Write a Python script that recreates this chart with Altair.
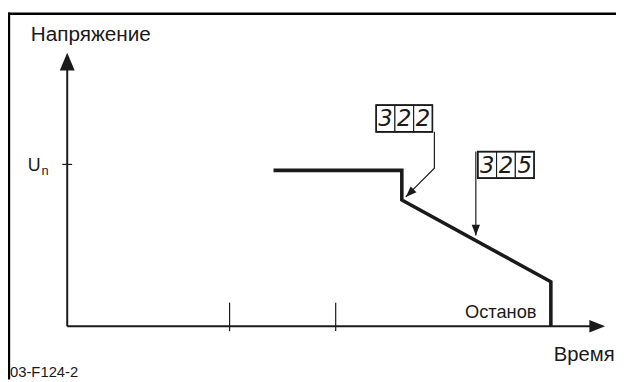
import altair as alt
import pandas as pd

# ---- values (time in arbitrary units, voltage in units of Un) ----
profile_t = [2.09, 3.39, 3.39, 4.90, 4.90]
profile_v = [0.963, 0.963, 0.78, 0.275, 0.0]

time_ticks = [1.645, 2.72]
un_level = 1.0

# parameter boxes: cell edges (time units) and box top/bottom (voltage units)
box322_edges = [3.13, 3.32, 3.51, 3.70]
box322_y = [1.366, 1.201]
box322_digits = ["3", "2", "2"]
box325_edges = [4.16, 4.35, 4.54, 4.73]
box325_y = [1.079, 0.915]
box325_digits = ["3", "2", "5"]

# annotation arrows (polylines ending at the tip)
arrow322_t = [3.72, 3.72, 3.43]
arrow322_v = [1.201, 0.976, 0.799]
arrow325_t = [4.14, 4.14]
arrow325_v = [1.079, 0.56]

x_axis_end = 5.45
y_axis_end = 1.69

X_DOM = [-0.6, 5.56]
Y_DOM = [-0.3293, 1.9512]
W, H = 616, 374

xs = alt.Scale(domain=X_DOM, nice=False, zero=False)
ys = alt.Scale(domain=Y_DOM, nice=False, zero=False)

def X(f):
    return alt.X(f, type="quantitative", scale=xs, axis=None)

def Y(f):
    return alt.Y(f, type="quantitative", scale=ys, axis=None)

FONT = "Liberation Sans"

# ---- frame ----
frame_top = alt.Chart(pd.DataFrame({"a": [0]})).mark_rule(color="black", strokeWidth=2.6).encode(
    x=alt.value(0), x2=alt.value(W), y=alt.value(3.3))
frame_left = alt.Chart(pd.DataFrame({"a": [0]})).mark_rule(color="black", strokeWidth=2.6).encode(
    x=alt.value(0.9), y=alt.value(2), y2=alt.value(H))

# ---- axes ----
axes_df = pd.DataFrame({"x": [0, 0], "x2": [0, x_axis_end - 0.14], "y": [0, 0], "y2": [y_axis_end - 0.1, 0]})
axes = alt.Chart(axes_df).mark_rule(color="#1a1a1a", strokeWidth=2).encode(
    x=X("x"), x2="x2", y=Y("y"), y2="y2")

ticks_df = pd.DataFrame({"x": time_ticks, "y": [0.146] * 2, "y2": [-0.03] * 2})
ticks = alt.Chart(ticks_df).mark_rule(color="#1a1a1a", strokeWidth=1.2).encode(
    x=X("x"), y=Y("y"), y2="y2")

un_df = pd.DataFrame({"x": [-0.05], "x2": [0.05], "y": [un_level]})
un_tick = alt.Chart(un_df).mark_rule(color="#1a1a1a", strokeWidth=1.2).encode(
    x=X("x"), x2="x2", y=Y("y"))

head = "M0,0L-0.42,1L0.42,1Z"
yhead = alt.Chart(pd.DataFrame({"x": [0], "y": [y_axis_end]})).mark_point(
    shape=head, size=1296, filled=True, color="#1a1a1a", opacity=1, strokeWidth=0).encode(x=X("x"), y=Y("y"))
xhead = alt.Chart(pd.DataFrame({"x": [x_axis_end], "y": [0]})).mark_point(
    shape="M0,0L-0.4,1L0.4,1Z", size=1024, angle=90, filled=True, color="#1a1a1a", opacity=1,
    strokeWidth=0).encode(x=X("x"), y=Y("y"))

# ---- voltage profile ----
prof_df = pd.DataFrame({"t": profile_t, "v": profile_v, "o": list(range(len(profile_t)))})
profile = alt.Chart(prof_df).mark_line(color="#1a1a1a", strokeWidth=3.6, strokeJoin="miter",
                                       strokeCap="butt").encode(x=X("t"), y=Y("v"), order="o:Q")

# ---- annotation arrows ----
a322 = pd.DataFrame({"t": arrow322_t, "v": arrow322_v, "o": [0, 1, 2]})
arr322 = alt.Chart(a322).mark_line(color="#1a1a1a", strokeWidth=1.2).encode(
    x=X("t"), y=Y("v"), order="o:Q")
a325 = pd.DataFrame({"t": arrow325_t, "v": arrow325_v, "o": [0, 1]})
arr325 = alt.Chart(a325).mark_line(color="#1a1a1a", strokeWidth=1.2).encode(
    x=X("t"), y=Y("v"), order="o:Q")

small_head = "M0,0L-0.38,1L0.38,1Z"
h322 = alt.Chart(pd.DataFrame({"t": [arrow322_t[-1]], "v": [arrow322_v[-1]]})).mark_point(
    shape=small_head, size=484, angle=226, filled=True, color="#1a1a1a", opacity=1,
    strokeWidth=0).encode(x=X("t"), y=Y("v"))
h325 = alt.Chart(pd.DataFrame({"t": [arrow325_t[-1]], "v": [arrow325_v[-1]]})).mark_point(
    shape=small_head, size=484, angle=180, filled=True, color="#1a1a1a", opacity=1,
    strokeWidth=0).encode(x=X("t"), y=Y("v"))

# ---- parameter boxes ----
def box_layers(edges, yy, digits):
    cells = pd.DataFrame({
        "x": edges[:-1], "x2": edges[1:],
        "y": [yy[0]] * 3, "y2": [yy[1]] * 3,
        "xc": [(a + b) / 2 for a, b in zip(edges[:-1], edges[1:])],
        "yc": [(yy[0] + yy[1]) / 2] * 3,
        "d": digits,
    })
    outer = pd.DataFrame({"x": [edges[0]], "x2": [edges[-1]], "y": [yy[0]], "y2": [yy[1]]})
    r = alt.Chart(cells).mark_rect(fill="white", stroke="#1a1a1a", strokeWidth=1.1).encode(
        x=X("x"), x2="x2", y=Y("y"), y2="y2")
    o = alt.Chart(outer).mark_rect(fill=None, stroke="#1a1a1a", strokeWidth=1.6).encode(
        x=X("x"), x2="x2", y=Y("y"), y2="y2")
    t = alt.Chart(cells).mark_text(font="DejaVu Sans", fontSize=23, fontStyle="italic",
                                   baseline="middle", align="center", color="#1a1a1a",
                                   dy=1).encode(x=X("xc"), y=Y("yc"), text="d:N")
    return [r, o, t]

# ---- labels ----
def label(txt, px, py, size, align="left", baseline="alphabetic"):
    return alt.Chart(pd.DataFrame({"s": [txt]})).mark_text(
        font=FONT, fontSize=size, align=align, baseline=baseline, color="#1a1a1a").encode(
        x=alt.value(px - 8), y=alt.value(py - 8), text="s:N")

labels = [
    label("Напряжение", 31, 39, 21),
    label("U", 28, 171, 18),
    label("n", 42, 175, 13),
    label("Останов", 471, 320, 18.5),
    label("Время", 561, 363, 20.5),
    label("03-F124-2", 10, 379, 15),
]

layers = [frame_top, frame_left, axes, ticks, un_tick, yhead, xhead, profile,
          arr322, arr325, h322, h325]
layers += box_layers(box322_edges, box322_y, box322_digits)
layers += box_layers(box325_edges, box325_y, box325_digits)
layers += labels

chart = alt.layer(*layers).properties(
    width=W, height=H, padding=0, autosize=alt.AutoSizeParams(type="none")
).configure_view(stroke=None)

chart.save("out.html", embed_options={"renderer": "svg", "actions": False})
